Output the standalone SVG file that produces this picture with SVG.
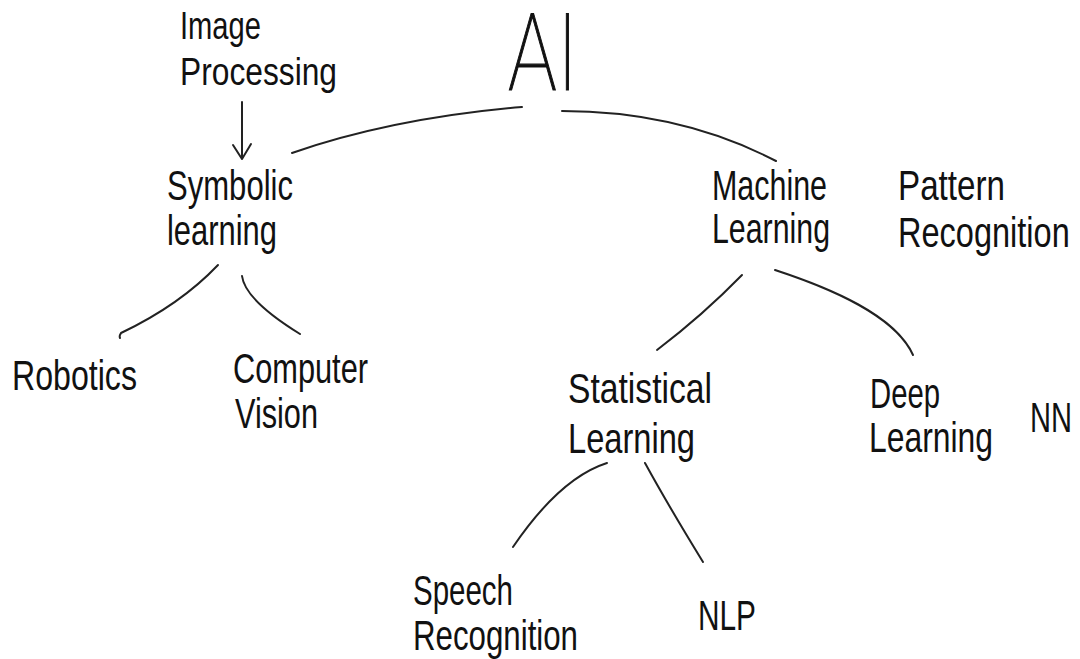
<svg xmlns="http://www.w3.org/2000/svg" width="1080" height="659" viewBox="0 0 1080 659">
  <style>
    .lbl { font-family: "Liberation Sans", "DejaVu Sans", sans-serif; font-size: 42px; fill: #111; }
    .sm { font-size: 38px; }
    .title { font-family: "Roboto", "Lato", "Liberation Sans", sans-serif; font-weight: 100; font-size: 107px; fill: #111; stroke: #111; stroke-width: 1.2px; }
    .edge { fill: none; stroke: #222; stroke-width: 2; stroke-linecap: round; stroke-linejoin: round; }
  </style>
  <rect width="1080" height="659" fill="#ffffff"/>

  <!-- tree branches -->
  <g id="connectors">
    <path class="edge" d="M292,153 Q393,118 522,107"/>
    <path class="edge" d="M562,111 Q680,111 776,161"/>
    <path class="edge" d="M242,102 L242,158"/>
    <path class="edge" d="M233,145 L242,159 L251,144"/>
    <path class="edge" d="M218,265 Q180,305 121,333 Q119,336 120,338"/>
    <path class="edge" d="M242,276 Q245,300 300,334"/>
    <path class="edge" d="M742,275 Q703,315 657,350"/>
    <path class="edge" d="M775,270 C830,288 895,315 913,355"/>
    <path class="edge" d="M607,463 Q560,478 513,547"/>
    <path class="edge" d="M645,463 Q668,505 703,562"/>
  </g>

  <g id="node-ai">
    <text class="title" transform="translate(508,90) scale(0.5,1)" x="0" y="0" textLength="140" lengthAdjust="spacingAndGlyphs">AI</text>
  </g>

  <g id="node-image-processing">
    <text class="lbl sm" x="180" y="39" textLength="81" lengthAdjust="spacingAndGlyphs">Image</text>
    <text class="lbl sm" x="180" y="85" textLength="157" lengthAdjust="spacingAndGlyphs">Processing</text>
  </g>

  <g id="node-symbolic-learning">
    <text class="lbl" x="167" y="200" textLength="126" lengthAdjust="spacingAndGlyphs">Symbolic</text>
    <text class="lbl" x="167" y="245" textLength="110" lengthAdjust="spacingAndGlyphs">learning</text>
  </g>

  <g id="node-robotics">
    <text class="lbl" x="12" y="390" textLength="125" lengthAdjust="spacingAndGlyphs">Robotics</text>
  </g>

  <g id="node-computer-vision">
    <text class="lbl" x="233" y="383" textLength="135" lengthAdjust="spacingAndGlyphs">Computer</text>
    <text class="lbl" x="235" y="428" textLength="83" lengthAdjust="spacingAndGlyphs">Vision</text>
  </g>

  <g id="node-machine-learning">
    <text class="lbl" x="712" y="200" textLength="115" lengthAdjust="spacingAndGlyphs">Machine</text>
    <text class="lbl" x="712" y="243" textLength="118" lengthAdjust="spacingAndGlyphs">Learning</text>
  </g>

  <g id="node-pattern-recognition">
    <text class="lbl" x="898" y="200" textLength="107" lengthAdjust="spacingAndGlyphs">Pattern</text>
    <text class="lbl" transform="translate(898,247) scale(0.75,1)" x="0" y="0" textLength="229" lengthAdjust="spacingAndGlyphs">Recognition</text>
  </g>

  <g id="node-statistical-learning">
    <text class="lbl" x="568" y="403" textLength="144" lengthAdjust="spacingAndGlyphs">Statistical</text>
    <text class="lbl" x="568" y="453" textLength="127" lengthAdjust="spacingAndGlyphs">Learning</text>
  </g>

  <g id="node-deep-learning">
    <text class="lbl" x="870" y="408" textLength="70" lengthAdjust="spacingAndGlyphs">Deep</text>
    <text class="lbl" x="869" y="452" textLength="124" lengthAdjust="spacingAndGlyphs">Learning</text>
  </g>

  <g id="node-nn">
    <text class="lbl" transform="translate(1030,432) scale(0.6,1)" x="0" y="0" textLength="70" lengthAdjust="spacingAndGlyphs">NN</text>
  </g>

  <g id="node-speech-recognition">
    <text class="lbl" x="413" y="605" textLength="100" lengthAdjust="spacingAndGlyphs">Speech</text>
    <text class="lbl" x="413" y="650" textLength="165" lengthAdjust="spacingAndGlyphs">Recognition</text>
  </g>

  <g id="node-nlp">
    <text class="lbl" x="698" y="630" textLength="58" lengthAdjust="spacingAndGlyphs">NLP</text>
  </g>
</svg>
